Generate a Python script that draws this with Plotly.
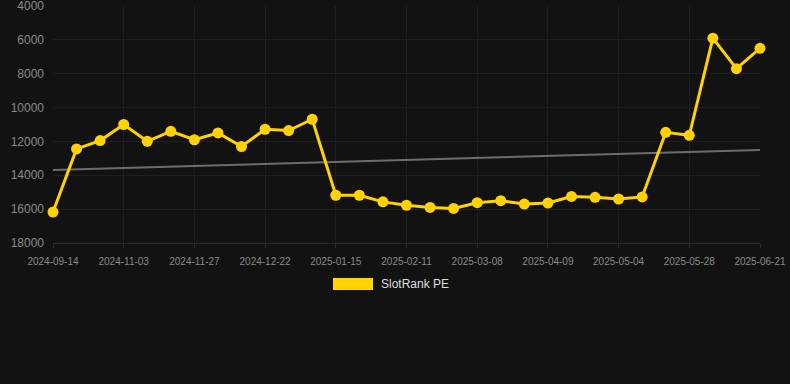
import plotly.graph_objects as go

dates = [
    "2024-09-14", "2024-10-01", "2024-10-17", "2024-11-03", "2024-11-11", "2024-11-19",
    "2024-11-27", "2024-12-05", "2024-12-13", "2024-12-22", "2024-12-30", "2025-01-07",
    "2025-01-15", "2025-01-24", "2025-02-02", "2025-02-11", "2025-02-19", "2025-02-27",
    "2025-03-08", "2025-03-19", "2025-03-30", "2025-04-09", "2025-04-17", "2025-04-25",
    "2025-05-04", "2025-05-12", "2025-05-20", "2025-05-28", "2025-06-05", "2025-06-13",
    "2025-06-21",
]
rank_pe = [
    16170, 12440, 11950, 11000, 11990, 11400,
    11900, 11500, 12300, 11280, 11360, 10690,
    15180, 15180, 15570, 15770, 15900, 15960,
    15620, 15500, 15700, 15640, 15250, 15300,
    15400, 15280, 11460, 11640, 5900, 7700,
    6500,
]
trend_values = [13690, 12500]
tick_labels = dates[::3]
y_ticks = [4000, 6000, 8000, 10000, 12000, 14000, 16000, 18000]
y_tick_text = [str(v) for v in y_ticks]

fig = go.Figure()
fig.add_trace(go.Scatter(
    x=[dates[0], dates[-1]], y=trend_values, mode="lines",
    line=dict(color="rgba(140,140,140,0.75)", width=2), showlegend=False, hoverinfo="skip",
))
fig.add_trace(go.Scatter(
    x=dates, y=rank_pe, mode="lines+markers", name="SlotRank PE",
    line=dict(color="#FFD200", width=3),
    marker=dict(color="#FFD200", size=11),
    cliponaxis=False, showlegend=False,
))

W, H = 790, 384
L, R, T, B = 53, 30, 6, 141
fig.update_layout(
    width=W, height=H,
    margin=dict(l=L, r=R, t=T, b=B, autoexpand=False),
    paper_bgcolor="#121212", plot_bgcolor="#121212",
    font=dict(family="Liberation Sans, Arial, sans-serif", color="#888888"),
    xaxis=dict(
        type="category", categoryorder="array", categoryarray=dates,
        range=[0, len(dates) - 1], automargin=False,
        tickmode="array", tickvals=tick_labels, ticktext=tick_labels,
        tickfont=dict(size=10, color="#8a8a8a"),
        showgrid=True, gridcolor="#1f1f1f", gridwidth=1,
        showline=True, linecolor="#2c2c2c", linewidth=1,
        zeroline=False, ticks="outside", ticklen=4, tickcolor="#2c2c2c",
        ticklabelstandoff=5, ticklabeloverflow="allow",
    ),
    yaxis=dict(
        range=[18000, 4000], automargin=False,
        tickmode="array", tickvals=y_ticks, ticktext=y_tick_text,
        tickfont=dict(size=12, color="#8a8a8a"),
        showgrid=True, gridcolor="#1f1f1f", gridwidth=1,
        zeroline=False, showline=False, ticks="", ticklabelstandoff=8,
        ticklabeloverflow="allow",
    ),
    showlegend=False,
)

# legend drawn manually (rectangle swatch + label)
pw = W - L - R
ph = H - T - B
def px_x(x):
    return (x - L) / pw
def px_y(y):
    return (H - B - y) / ph
fig.add_shape(type="rect", xref="paper", yref="paper",
              x0=px_x(333), x1=px_x(373), y0=px_y(290), y1=px_y(278),
              fillcolor="#FFD200", line=dict(width=0))
fig.add_annotation(xref="paper", yref="paper", x=px_x(379), y=px_y(284),
                   text="SlotRank PE", showarrow=False, xanchor="left", yanchor="middle",
                   font=dict(size=12, color="#dddddd"))

fig.write_html("out.html", config={"displayModeBar": False},
               post_script="document.body.style.margin='0';document.body.style.background='#121212';")
